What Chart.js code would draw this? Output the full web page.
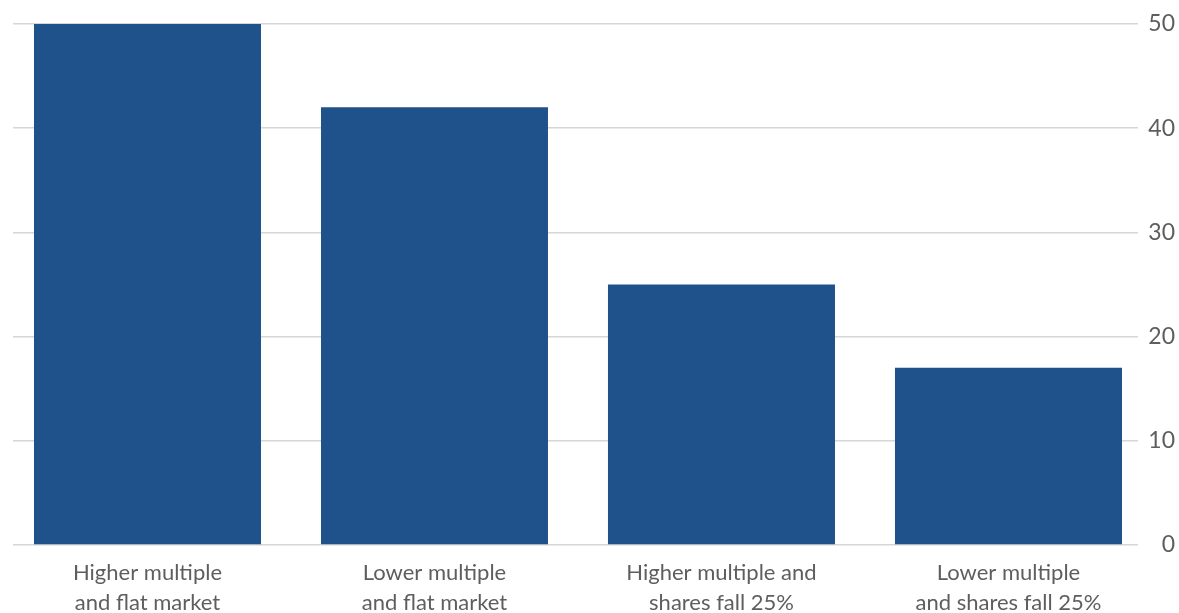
<!DOCTYPE html>
<html>
<head>
<meta charset="utf-8">
<script src="https://cdn.jsdelivr.net/npm/chart.js@4/dist/chart.umd.min.js"></script>
<style>
  html, body { margin: 0; padding: 0; background: #ffffff; }
  #wrap { width: 1179px; height: 613px; position: relative; }
</style>
</head>
<body>
<div id="wrap"><canvas id="chart"></canvas></div>
<script>
// Chart data
const categories = [
    ['Higher multiple', 'and flat market'],
    ['Lower multiple', 'and flat market'],
    ['Higher multiple and', 'shares fall 25%'],
    ['Lower multiple', 'and shares fall 25%']
];
const values = [50, 42, 25, 17];
const yTicks = [0, 10, 20, 30, 40, 50];

const barColor = '#1f528a';
const textColor = '#5e5e5e';
const gridColor = '#d6d6d6';

new Chart(document.getElementById('chart'), {
    type: 'bar',
    data: {
        datasets: [{
            data: values.map((v, i) => ({ x: i, y: v })),
            backgroundColor: barColor,
            borderWidth: 0,
            categoryPercentage: 1,
            barPercentage: 0.791
        }]
    },
    options: {
        responsive: true,
        maintainAspectRatio: false,
        animation: false,
        layout: { padding: { top: 24, left: 13, right: 4, bottom: 0 } },
        scales: {
            x: {
                type: 'linear',
                offset: false,
                min: -0.4686,
                max: 3.4513,
                grid: { display: false, offset: false },
                border: { display: false },
                afterBuildTicks: scale => {
                    scale.ticks = categories.map((c, i) => ({ value: i }));
                },
                afterFit: scale => { scale.height = 68; },
                ticks: {
                    autoSkip: false,
                    maxRotation: 0,
                    padding: 5,
                    color: textColor,
                    font: { family: 'Lato', size: 22, lineHeight: 1.36 },
                    callback: value => categories[value]
                }
            },
            y: {
                position: 'right',
                min: 0,
                max: 50,
                afterBuildTicks: scale => {
                    scale.ticks = yTicks.map(v => ({ value: v }));
                },
                afterFit: scale => { scale.width = 37; },
                grid: { color: gridColor, lineWidth: 1.5, drawTicks: false },
                border: { display: false },
                ticks: {
                    crossAlign: 'far',
                    padding: 10,
                    color: textColor,
                    font: { family: 'Lato', size: 23 }
                }
            }
        },
        plugins: {
            legend: { display: false },
            tooltip: { enabled: false }
        }
    }
});
</script>
</body>
</html>
